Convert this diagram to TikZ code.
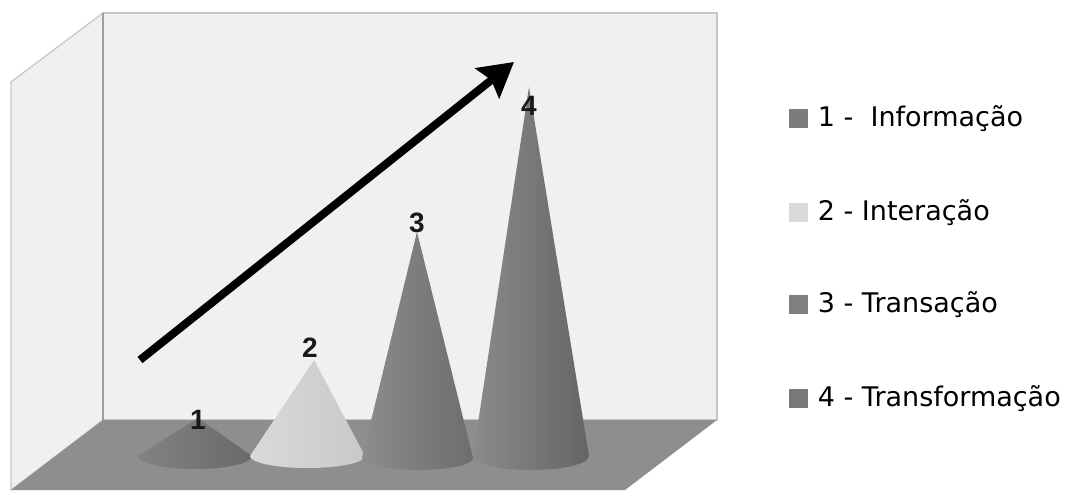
\documentclass[tikz,border=0pt]{standalone}
\usepackage{fontspec}
\setmainfont{DejaVu Sans}
\newfontfamily\rotulofont{Liberation Sans}
\usepackage{xcolor}
\usepackage{tikz}
\usetikzlibrary{arrows.meta, positioning, calc}

\definecolor{parede}{HTML}{F0F0F0}
\definecolor{aresta}{HTML}{C6C6C6}
\definecolor{piso}{HTML}{8E8E8E}
\definecolor{conoum}{HTML}{7C7C7C}
\definecolor{conodoisclaro}{HTML}{F2F2F2}
\definecolor{conodoislado}{HTML}{DADADA}
\definecolor{conotres}{HTML}{808080}
\definecolor{conoquatro}{HTML}{7E7E7E}

\tikzset{
    cone/.style={draw=none},
    numero/.style={font=\rotulofont\bfseries\fontsize{28}{30}\selectfont, inner sep=0pt, text=black!90},
    legbox/.style={minimum size=19pt, inner sep=0pt},
    legtext/.style={anchor=base west, inner sep=0pt, font=\fontsize{27}{30}\selectfont, text=black},
}

\begin{document}
\begin{tikzpicture}[x=1pt, y=-1pt]

    \useasboundingbox (0,0) rectangle (1081,492);

    % Caixa 3D: parede lateral, parede do fundo e piso
    \filldraw[fill=parede, draw=aresta, line width=1.2pt] (103,13) -- (11,82) -- (11,490) -- (103,420) -- cycle;
    \filldraw[fill=parede, draw=aresta, line width=1.2pt] (103,13) rectangle (717,420);
    \fill[piso] (103,420) -- (717,420) -- (625,490) -- (11,490) -- cycle;
    \draw[aresta!80!black, line width=1.2pt] (103,13) -- (103,420);

    % Cones (vértice, lado esquerdo da base, meia elipse da base)
    \path[cone, left color=conoum!95!white, right color=conoum!85!black] (198,418) -- (138,456) arc[start angle=180, end angle=0, x radius=57, y radius=13] -- cycle;
    \path[cone, left color=conodoislado, middle color=conodoisclaro, right color=conodoislado!92!black] (314,360) -- (250,456) arc[start angle=180, end angle=0, x radius=57.5, y radius=12] -- cycle;
    \path[cone, left color=conotres!90!white, middle color=conotres, right color=conotres!85!black] (417,232) -- (362,458) arc[start angle=180, end angle=0, x radius=55.5, y radius=12] -- cycle;
    \path[cone, left color=conoquatro!90!white, middle color=conoquatro, right color=conoquatro!80!black] (529,87) -- (473,456) arc[start angle=180, end angle=0, x radius=58, y radius=14] -- cycle;

    % Rótulos dos cones
    \node[numero] (n1) at (198,420) {1};
    \node[numero] (n2) at (310,348) {2};
    \node[numero] (n3) at (417,223) {3};
    \node[numero] (n4) at (529,106) {4};

    % Seta de crescimento
    \coordinate (inicio) at (140,360);
    \coordinate (fim) at (514,62);
    \draw[line width=8pt, -{Stealth[length=34pt, width=38pt, inset=5pt]}] (inicio) -- (fim);

    % Legenda
    \node[legbox, fill=conoum] (leg1) at (798,119) {};
    \node[legbox, fill=conodoislado] (leg2) at (798,212) {};
    \node[legbox, fill=conotres] (leg3) at (798,304) {};
    \node[legbox, fill=conoquatro!95!black] (leg4) at (798,398) {};

    \node[legtext] (txt1) at ([xshift=10pt, yshift=-8pt]leg1.east) {1 -\ \ Informação};
    \node[legtext] (txt2) at ([xshift=10pt, yshift=-8pt]leg2.east) {2 - Interação};
    \node[legtext] (txt3) at ([xshift=10pt, yshift=-8pt]leg3.east) {3 - Transação};
    \node[legtext] (txt4) at ([xshift=10pt, yshift=-8pt]leg4.east) {4 - Transformação};

\end{tikzpicture}
\end{document}
